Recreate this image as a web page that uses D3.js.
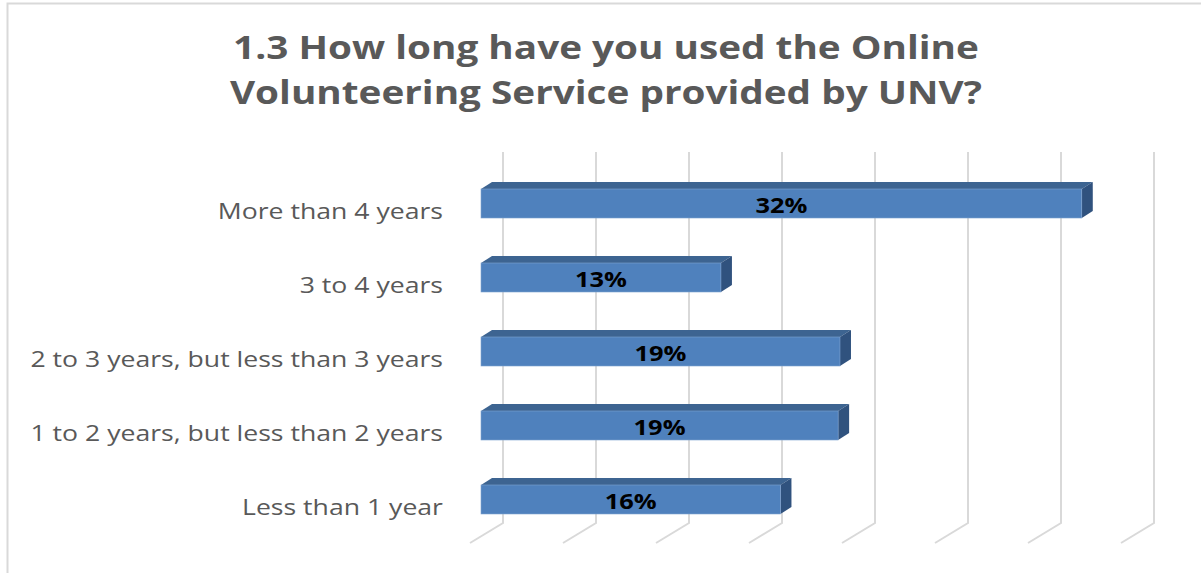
<!DOCTYPE html>
<html>
<head>
<meta charset="utf-8">
<script src="https://cdn.jsdelivr.net/npm/d3@7"></script>
<style>
  body { margin: 0; background: #fff; }
  svg { display: block; }
</style>
</head>
<body>
<svg id="chart" width="1201" height="573"></svg>
<script>
// chart data
var categories = [
    "More than 4 years",
    "3 to 4 years",
    "2 to 3 years, but less than 3 years",
    "1 to 2 years, but less than 2 years",
    "Less than 1 year"
];
var values = [32.3, 12.9, 19.3, 19.2, 16.1];
var ticks = [0, 5, 10, 15, 20, 25, 30, 35];
var titleLines = ["1.3 How long have you used the Online", "Volunteering Service provided by UNV?"];

var svg = d3.select("#chart");

// the source picture is stretched sideways, so text is too
var stretch = 1.21;

// 3d depth offsets
var depth = { dx: 33, dy: -20 };
var barDepth = { dx: 11, dy: -7 };
var frontX0 = 481;

var x = d3.scaleLinear().domain([0, 35]).range([0, 651]);
var y = d3.scaleBand()
    .domain(categories)
    .range([152, 551])
    .paddingInner(0.608)
    .paddingOuter(0.5);

function place(px, py) {
    return "translate(" + px + "," + py + ") scale(" + stretch + ",1)";
}

// outer border (only top and left edges are visible in the crop)
svg.append("path")
    .attr("d", "M7.5,573 L7.5,3.5 L1201,3.5")
    .attr("fill", "none")
    .attr("stroke", "#d9d9d9")
    .attr("stroke-width", 2);

// title
svg.append("g").selectAll("text")
    .data(titleLines)
    .enter().append("text")
    .attr("transform", (d, i) => place(606, 59 + i * 45))
    .attr("text-anchor", "middle")
    .attr("font-family", "'Open Sans', sans-serif")
    .attr("font-weight", "bold")
    .attr("font-size", 32)
    .attr("fill", "#595959")
    .text(d => d);

// gridlines: back wall vertical + floor diagonal
var backX0 = frontX0 + depth.dx * 2 / 3;
var gridTop = 152, gridBottom = 523;
var grid = svg.append("g").attr("class", "grid");
grid.selectAll("path")
    .data(ticks)
    .enter().append("path")
    .attr("d", function (t) {
        let bx = backX0 + x(t);
        return "M" + bx + "," + gridTop +
            "L" + bx + "," + gridBottom +
            "L" + (bx - depth.dx) + "," + (gridBottom - depth.dy);
    })
    .attr("fill", "none")
    .attr("stroke", "#d9d9d9")
    .attr("stroke-width", 2);

// bars
var bars = svg.append("g").selectAll("g.bar")
    .data(values)
    .enter().append("g")
    .attr("class", "bar");

bars.each(function (v, i) {
    let g = d3.select(this);
    let x0 = frontX0, x1 = frontX0 + x(v);
    let y0 = y(categories[i]), y1 = y0 + y.bandwidth();
    let dx = barDepth.dx, dy = barDepth.dy;
    // top face
    g.append("path")
        .attr("d", "M" + x0 + "," + y0 + "L" + (x0 + dx) + "," + (y0 + dy) +
            "L" + (x1 + dx) + "," + (y0 + dy) + "L" + x1 + "," + y0 + "Z")
        .attr("fill", "#3d6491");
    // side face
    g.append("path")
        .attr("d", "M" + x1 + "," + y0 + "L" + (x1 + dx) + "," + (y0 + dy) +
            "L" + (x1 + dx) + "," + (y1 + dy) + "L" + x1 + "," + y1 + "Z")
        .attr("fill", "#30527e");
    // front face
    g.append("rect")
        .attr("x", x0).attr("y", y0)
        .attr("width", x1 - x0).attr("height", y1 - y0)
        .attr("fill", "#4f81bd")
        .attr("stroke", "#7fa3d0")
        .attr("stroke-width", 0.6);
    // value label
    g.append("text")
        .attr("transform", place((x0 + x1) / 2, (y0 + y1) / 2 + 9.5))
        .attr("text-anchor", "middle")
        .attr("font-family", "'Open Sans', sans-serif")
        .attr("font-weight", "bold")
        .attr("font-size", 21)
        .attr("fill", "#000")
        .text(Math.round(v) + "%");
});

// category labels
svg.append("g").selectAll("text")
    .data(categories)
    .enter().append("text")
    .attr("transform", d => place(443, y(d) + y.bandwidth() / 2 + 15.5))
    .attr("text-anchor", "end")
    .attr("font-family", "'Open Sans', sans-serif")
    .attr("font-size", 22)
    .attr("fill", "#595959")
    .text(d => d);
</script>
</body>
</html>
